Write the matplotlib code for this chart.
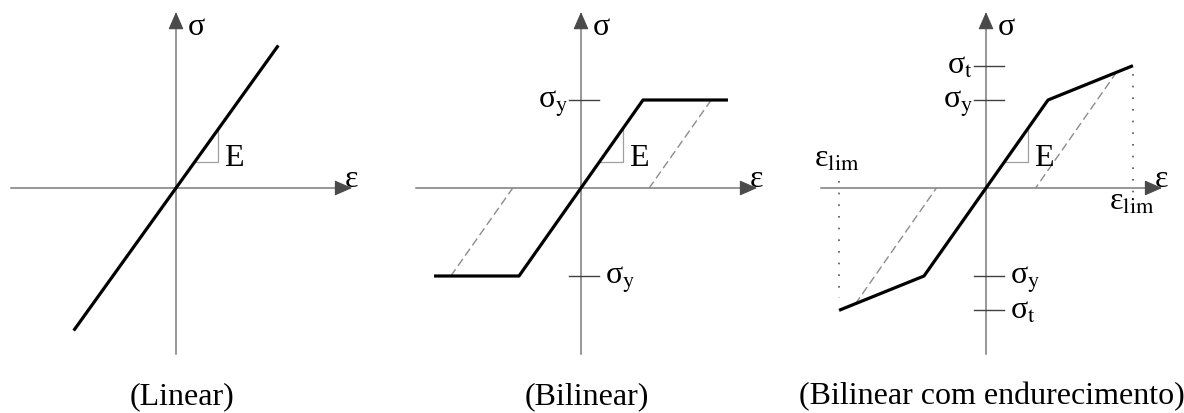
import matplotlib
matplotlib.use("Agg")
import matplotlib.pyplot as plt

plt.rcParams['font.family'] = ['Liberation Serif', 'DejaVu Serif']
plt.rcParams['mathtext.fontset'] = 'stix'

# stress-strain laws, strain in units of eps_y, stress in units of sigma_y
eps_lin = [-1.65, 1.65]
sig_lin = [-1.62, 1.62]

eps_bil = [-2.37, -1.0, 0.0, 1.0, 2.37]
sig_bil = [-1.0, -1.0, 0.0, 1.0, 1.0]
unload_bil_eps = [[2.1, 1.1], [-2.1, -1.1]]
unload_bil_sig = [[1.0, 0.0], [-1.0, 0.0]]

eps_hard = [-2.37, -1.0, 0.0, 1.0, 2.37]
sig_hard = [-1.39, -1.0, 0.0, 1.0, 1.39]
unload_hard_eps = [[2.11, 0.80], [-2.11, -0.80]]
unload_hard_sig = [[1.32, 0.0], [-1.32, 0.0]]
eps_lim = 2.37
lim_dots_sig = [[1.30, -0.07], [0.08, -1.25]]

sigma_y = 1.0
sigma_t = 1.39

titles = ['(Linear)', '(Bilinear)', '(Bilinear com endurecimento)']

# layout: pixels per unit and panel placement
W, H = 1184, 414
PX_EPS, PX_SIG = 62.0, 88.0
Y0 = 189
panels = [(0, 395, 176), (395, 790, 581), (790, 1184, 986)]

AX_COL = '#7a7a7a'
HEAD_COL = '#4a4a4a'
FS = 23

fig = plt.figure(figsize=(W / 100, H / 100), dpi=100)
axes = []
for left, right, x0 in panels:
    ax = fig.add_axes([left / W, 0, (right - left) / W, 1])
    ax.set_xlim((left - x0) / PX_EPS, (right - x0) / PX_EPS)
    ax.set_ylim((Y0 - H) / PX_SIG, Y0 / PX_SIG)
    ax.axis('off')
    axes.append(ax)


def draw_axes(ax):
    x_lo, x_hi = -2.66, 2.84
    y_lo, y_hi = -1.89, 2.0
    ax.plot([x_lo, x_hi - 0.12], [0, 0], color=AX_COL, lw=1.1, zorder=1)
    ax.plot([0, 0], [y_lo, y_hi - 0.09], color=AX_COL, lw=1.1, zorder=1)
    style = '-|>,head_length=0.55,head_width=0.24'
    ax.annotate('', xy=(x_hi, 0), xytext=(x_hi - 0.25, 0),
                arrowprops=dict(arrowstyle=style, color=HEAD_COL, lw=0.8,
                                shrinkA=0, shrinkB=0, mutation_scale=20))
    ax.annotate('', xy=(0, y_hi), xytext=(0, y_hi - 0.18),
                arrowprops=dict(arrowstyle=style, color=HEAD_COL, lw=0.8,
                                shrinkA=0, shrinkB=0, mutation_scale=20))
    ax.text(0.19, 1.75, 'σ', fontsize=FS, ha='left', va='baseline')
    ax.text(2.83, 0.02, 'ε', fontsize=FS, ha='center', va='baseline')
    # slope triangle
    ax.plot([0.30, 0.68, 0.68], [0.30, 0.30, 0.66], color='#a0a0a0', lw=0.9, zorder=1)
    ax.text(0.77, 0.26, 'E', fontsize=FS, ha='left', va='baseline')


def stress_tick(ax, s, label, side):
    ax.plot([-0.19, 0.29], [s, s], color='#404040', lw=1.0, zorder=1)
    if side == 'left':
        ax.text(-0.21, s - 0.08, label, fontsize=FS, ha='right', va='baseline')
    else:
        ax.text(0.38, s - 0.08, label, fontsize=FS, ha='left', va='baseline')


for ax in axes:
    draw_axes(ax)

# linear
ax = axes[0]
ax.plot(eps_lin, sig_lin, color='black', lw=2.3, solid_capstyle='butt', zorder=3)

# bilinear
ax = axes[1]
for ue, us in zip(unload_bil_eps, unload_bil_sig):
    ax.plot(ue, us, color='#8c8c8c', lw=1.0, ls=(0, (6, 3)), zorder=2)
ax.plot(eps_bil, sig_bil, color='black', lw=2.3, solid_capstyle='butt', zorder=3)
stress_tick(ax, sigma_y, r'σ$_\mathrm{y}$', 'left')
stress_tick(ax, -sigma_y, r'σ$_\mathrm{y}$', 'right')

# bilinear with hardening
ax = axes[2]
for ue, us in zip(unload_hard_eps, unload_hard_sig):
    ax.plot(ue, us, color='#8c8c8c', lw=1.0, ls=(0, (6, 3)), zorder=2)
ax.plot(eps_hard, sig_hard, color='black', lw=2.3, solid_capstyle='butt', zorder=3)
for e, ds in zip([eps_lim, -eps_lim], lim_dots_sig):
    ax.plot([e, e], ds, color='#555555', lw=1.2, ls=(0, (1, 6)), zorder=1)
stress_tick(ax, sigma_t, r'σ$_\mathrm{t}$', 'left')
stress_tick(ax, sigma_y, r'σ$_\mathrm{y}$', 'left')
stress_tick(ax, -sigma_y, r'σ$_\mathrm{y}$', 'right')
stress_tick(ax, -sigma_t, r'σ$_\mathrm{t}$', 'right')
ax.text(-2.78, 0.25, r'ε$_\mathrm{lim}$', fontsize=FS, ha='left', va='baseline')
ax.text(1.98, -0.24, r'ε$_\mathrm{lim}$', fontsize=FS, ha='left', va='baseline')

for ax, t in zip(axes, titles):
    ax.text(0.1, -2.45, t, fontsize=FS, ha='center', va='baseline', clip_on=False)

fig.savefig('out.png', dpi=100)
